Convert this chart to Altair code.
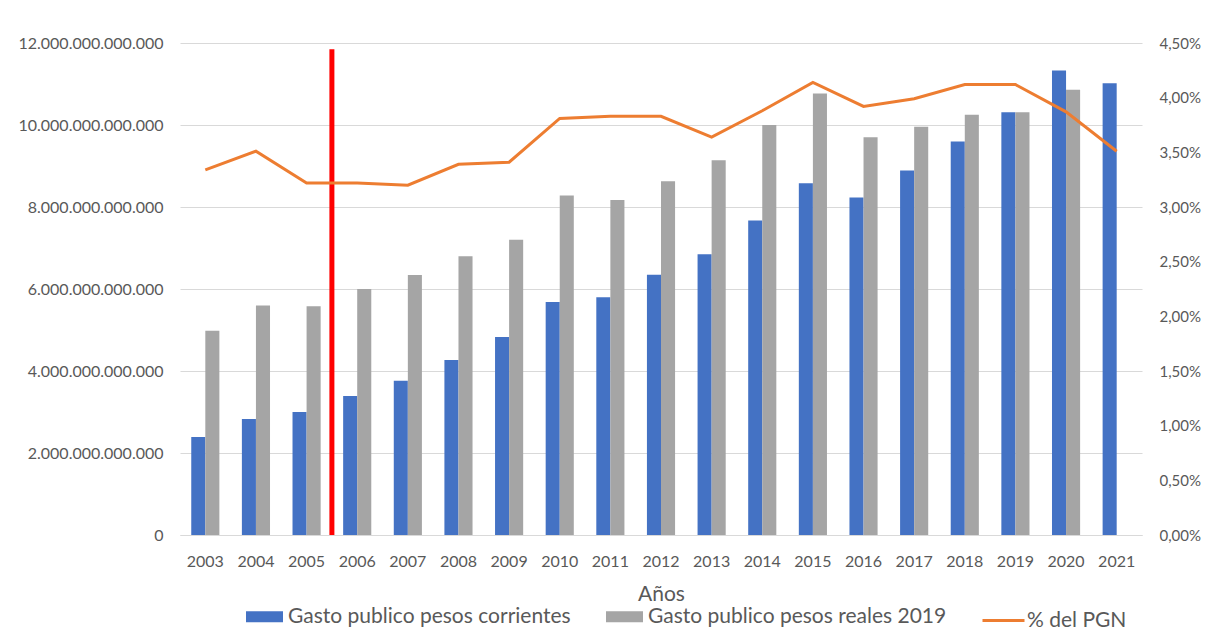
import altair as alt
import pandas as pd

years = [str(y) for y in range(2003, 2022)]
corrientes = [2.39e12, 2.83e12, 3.00e12, 3.39e12, 3.76e12, 4.27e12, 4.83e12, 5.68e12, 5.80e12,
              6.35e12, 6.85e12, 7.67e12, 8.58e12, 8.23e12, 8.89e12, 9.60e12, 10.31e12, 11.33e12, 11.02e12]
reales = [4.98e12, 5.60e12, 5.58e12, 6.00e12, 6.34e12, 6.80e12, 7.20e12, 8.28e12, 8.17e12,
          8.63e12, 9.14e12, 10.00e12, 10.77e12, 9.70e12, 9.96e12, 10.25e12, 10.31e12, 10.86e12, None]
pct_pgn = [0.0334, 0.0351, 0.0322, 0.0322, 0.0320, 0.0339, 0.0341, 0.0381, 0.0383, 0.0383,
           0.0364, 0.0388, 0.0414, 0.0392, 0.0399, 0.0412, 0.0412, 0.0387, 0.0351]

left_ticks = [0, 2e12, 4e12, 6e12, 8e12, 10e12, 12e12]
right_ticks = [0, 0.005, 0.01, 0.015, 0.02, 0.025, 0.03, 0.035, 0.04, 0.045]

s_cor = "Gasto publico pesos corrientes"
s_rea = "Gasto publico pesos reales 2019"
s_pct = "% del PGN"

marker_year = ["2005"]
marker_top = [11.85e12]
marker_bottom = [0]

rows = []
for y, c, r in zip(years, corrientes, reales):
    rows.append({"year": y, "serie": s_cor, "valor": c})
    if r is not None:
        rows.append({"year": y, "serie": s_rea, "valor": r})
bars_df = pd.DataFrame(rows)
line_df = pd.DataFrame({"year": years, "serie": s_pct, "pct": pct_pgn})
rule_df = pd.DataFrame({"year": marker_year, "top": marker_top, "bottom": marker_bottom})

FONT = "Lato"
GREY_TXT = "#595959"

x_enc = alt.X("year:N", scale=alt.Scale(paddingInner=0, paddingOuter=0),
              axis=alt.Axis(title="Años", labelAngle=0, labelFontSize=16, labelPadding=18,
                            ticks=False, domainColor="#d9d9d9", titleFontSize=21,
                            titleFontWeight="normal", titlePadding=14, labelColor=GREY_TXT,
                            titleColor=GREY_TXT))

y_left_scale = alt.Scale(domain=[0, 12e12], nice=False)
y_left_axis = alt.Axis(title=None, values=left_ticks, format=",.0f",
                       ticks=False, domain=False, gridColor="#d9d9d9", labelFontSize=16,
                       labelPadding=17, labelColor=GREY_TXT)

bars = alt.Chart(bars_df).mark_bar().encode(
    x=x_enc,
    xOffset=alt.XOffset("serie:N", scale=alt.Scale(domain=[s_cor, s_rea], paddingOuter=0.8, paddingInner=0)),
    y=alt.Y("valor:Q", scale=y_left_scale, axis=y_left_axis),
    color=alt.Color("serie:N", scale=alt.Scale(domain=[s_cor, s_rea], range=["#4472C4", "#A5A5A5"]),
                    legend=alt.Legend(title=None, orient="none", direction="horizontal",
                                      legendX=66, legendY=555, symbolType="M-1,-0.3L1,-0.3L1,0.3L-1,0.3Z",
                                      symbolSize=1369, symbolStrokeWidth=0, labelFontSize=21,
                                      labelColor=GREY_TXT, labelOffset=5, columnPadding=35,
                                      padding=0, symbolOffset=0, labelLimit=400)),
)

rule = alt.Chart(rule_df).mark_rule(color="#FF0000", strokeWidth=5).encode(
    x=alt.X("year:N", bandPosition=1),
    y=alt.Y("top:Q", scale=y_left_scale, axis=y_left_axis),
    y2="bottom:Q",
)

line = alt.Chart(line_df).mark_line(strokeWidth=3).encode(
    x=alt.X("year:N"),
    y=alt.Y("pct:Q", scale=alt.Scale(domain=[0, 0.045], nice=False),
            axis=alt.Axis(title=None, orient="right", format=".2%", values=right_ticks,
                          grid=False, ticks=False, domain=False, labelFontSize=15, labelPadding=17,
                          labelColor=GREY_TXT)),
    stroke=alt.Stroke("serie:N", scale=alt.Scale(domain=[s_pct], range=["#ED7D31"]),
                      legend=alt.Legend(title=None, orient="none", legendX=801, legendY=555,
                                        symbolType="M-1,0L1,0", symbolSize=1764, symbolStrokeWidth=3,
                                        symbolFillColor="transparent",
                                        labelFontSize=21, labelColor=GREY_TXT, labelOffset=1,
                                        padding=0, symbolOffset=0)),
)

chart = alt.layer(alt.layer(bars, rule), line).resolve_scale(y="independent").properties(
    width=962, height=492,
    autosize=alt.AutoSizeParams(type="none"),
    padding={"left": 172, "top": 35, "right": 61, "bottom": 94},
).configure(
    locale={"number": {"decimal": ",", "thousands": ".", "grouping": [3], "currency": ["", "$"]}},
).configure_view(stroke=None).configure_axis(labelFont=FONT, titleFont=FONT).configure_legend(
    labelFont=FONT)

chart.save("out.html", embed_options={"renderer": "svg", "actions": False})
